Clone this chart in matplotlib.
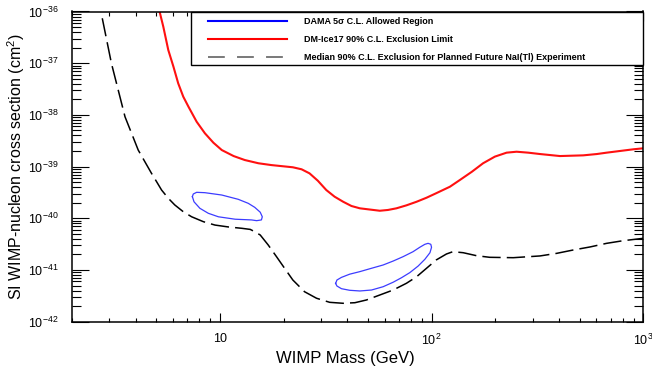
import numpy as np
import matplotlib.pyplot as plt
from matplotlib.lines import Line2D
from matplotlib.patches import Rectangle
from matplotlib.ticker import LogLocator, FixedLocator, FixedFormatter, NullFormatter

plt.rcParams['font.family'] = ['Liberation Sans', 'DejaVu Sans']
plt.rcParams['mathtext.fontset'] = 'custom'
plt.rcParams['mathtext.rm'] = 'Liberation Sans'
plt.rcParams['mathtext.it'] = 'Liberation Sans:italic'
plt.rcParams['mathtext.bf'] = 'Liberation Sans:bold'

# DM-Ice17 90% C.L. exclusion limit
mass_dmice = [5.15, 5.2, 5.40, 5.7, 6.03, 6.35, 6.71, 7.1, 7.76, 8.49, 9.31, 10.2, 11.6, 13.1,
              15.2, 17.5, 22.1, 24.3, 26.5, 29.0, 31.8, 34.8, 38.2, 41.8, 45.8, 56.9, 62.2,
              68.2, 76.0, 84.9, 94.6, 105, 122, 136, 155, 175, 199, 226, 252, 286, 325, 404,
              520, 603, 671, 897, 1000]
sigma_dmice = [1.1e-36, 9.5e-37, 5.08e-37, 1.8e-37, 8.55e-38, 4.08e-38, 2.25e-38, 1.44e-38,
               7.38e-39, 4.41e-39, 2.9e-39, 2.09e-39, 1.60e-39, 1.34e-39, 1.16e-39, 1.07e-39,
               9.7e-40, 8.87e-40, 7.4e-40, 5.33e-40, 3.52e-40, 2.62e-40, 2.09e-40, 1.73e-40,
               1.56e-40, 1.40e-40, 1.45e-40, 1.56e-40, 1.78e-40, 2.09e-40, 2.50e-40, 3.05e-40,
               4.08e-40, 5.51e-40, 7.96e-40, 1.16e-39, 1.56e-39, 1.86e-39, 1.94e-39, 1.86e-39,
               1.75e-39, 1.60e-39, 1.65e-39, 1.75e-39, 1.86e-39, 2.16e-39, 2.26e-39]

# median sensitivity of a future NaI(Tl) experiment
mass_future = [2.78, 3.07, 3.56, 4.11, 4.42, 4.75, 5.02, 5.30, 5.70, 6.12, 6.71, 7.35, 8.35,
               9.47, 10.96, 12.7, 13.9, 14.6, 15.5, 16.9, 18.5, 20.2, 22.1, 25.1, 28.6, 33.0,
               38.2, 43.4, 49.2, 65.8, 76.0, 84.9, 94.6, 105, 117.5, 126, 141, 163, 188, 243,
               325, 390, 467, 560, 671, 804, 1000]
sigma_future = [7.4e-37, 1.0e-37, 9.2e-39, 2.09e-39, 1.24e-39, 7.4e-40, 5.1e-40, 3.52e-40,
                2.44e-40, 1.81e-40, 1.34e-40, 1.07e-40, 8.6e-41, 7.4e-41, 6.8e-41, 6.4e-41,
                6.1e-41, 5.5e-41, 4.75e-41, 3.05e-41, 1.81e-41, 1.08e-41, 6.4e-42, 3.8e-42,
                2.84e-42, 2.37e-42, 2.27e-42, 2.33e-42, 2.63e-42, 4.1e-42, 5.53e-42, 7.4e-42,
                1.08e-41, 1.56e-41, 2.04e-41, 2.26e-41, 2.16e-41, 1.89e-41, 1.76e-41, 1.73e-41,
                1.87e-41, 2.10e-41, 2.44e-41, 2.79e-41, 3.28e-41, 3.69e-41, 4.1e-41]

# DAMA 5 sigma regions (closed contours)
dama_low_mass = [7.41, 7.48, 7.76, 8.49, 10.2, 12.2, 13.6, 14.6, 15.5, 15.85, 15.7, 14.9, 14.1,
                 11.8, 9.83, 8.81, 8.04, 7.54, 7.41]
dama_low_sigma = [2.62e-40, 2.95e-40, 3.18e-40, 3.13e-40, 2.82e-40, 2.33e-40, 1.95e-40,
                  1.63e-40, 1.31e-40, 1.07e-40, 9.3e-41, 9.0e-41, 9.3e-41, 9.6e-41, 1.07e-40,
                  1.25e-40, 1.56e-40, 2.09e-40, 2.62e-40]
dama_high_mass = [35.2, 35.7, 37.5, 41.0, 45.8, 52.0, 59.0, 65.8, 73.3, 81.7, 87.9, 92.9, 96.2,
                  99.1, 99.9, 98.2, 92.9, 86.3, 78.9, 72.1, 65.8, 59.0, 52.0, 45.8, 41.0, 37.5,
                  35.7, 35.2]
dama_high_sigma = [5.5e-42, 6.4e-42, 7.2e-42, 8.3e-42, 9.3e-42, 1.08e-41, 1.25e-41, 1.49e-41,
                   1.81e-41, 2.26e-41, 2.75e-41, 3.14e-41, 3.28e-41, 3.14e-41, 2.75e-41,
                   2.16e-41, 1.61e-41, 1.19e-41, 8.9e-42, 7.1e-42, 5.8e-42, 4.75e-42, 4.1e-42,
                   3.93e-42, 4.05e-42, 4.35e-42, 4.9e-42, 5.5e-42]

legend_labels = ["DAMA 5σ C.L. Allowed Region",
                 "DM-Ice17 90% C.L. Exclusion Limit",
                 "Median 90% C.L. Exclusion for Planned Future NaI(Tl) Experiment"]

x_ticks = [10, 100, 1000]
x_tick_labels = ["10", "$10^2$", "$10^3$"]
y_ticks = [1e-42, 1e-41, 1e-40, 1e-39, 1e-38, 1e-37, 1e-36]
y_tick_labels = ["$10^{-42}$", "$10^{-41}$", "$10^{-40}$", "$10^{-39}$",
                 "$10^{-38}$", "$10^{-37}$", "$10^{-36}$"]

fig = plt.figure(figsize=(6.52, 3.73), dpi=100)
ax = fig.add_axes([72 / 652, 51.3 / 373, 571.3 / 652, 310.2 / 373])

ax.plot(mass_future, sigma_future, color='black', lw=1.1, dashes=(12, 4))
ax.plot(mass_dmice, sigma_dmice, color='#ff1010', lw=1.5)
ax.plot(dama_low_mass, dama_low_sigma, color='#3c3cff', lw=0.9)
ax.plot(dama_high_mass, dama_high_sigma, color='#3c3cff', lw=0.9)

ax.set_xscale('log')
ax.set_yscale('log')
ax.set_xlim(2, 1000)
ax.set_ylim(1e-42, 1e-36)

ax.xaxis.set_major_locator(FixedLocator(x_ticks))
ax.xaxis.set_major_formatter(FixedFormatter(x_tick_labels))
ax.xaxis.set_minor_locator(LogLocator(base=10, subs=np.arange(2, 10), numticks=20))
ax.xaxis.set_minor_formatter(NullFormatter())
ax.yaxis.set_major_locator(FixedLocator(y_ticks))
ax.yaxis.set_major_formatter(FixedFormatter(y_tick_labels))
ax.yaxis.set_minor_locator(LogLocator(base=10, subs=np.arange(2, 10), numticks=20))
ax.yaxis.set_minor_formatter(NullFormatter())

ax.tick_params(which='both', direction='in', top=True, right=True, width=0.8, labelsize=9)
ax.tick_params(axis='x', which='major', length=6.5, pad=8)
ax.tick_params(axis='x', which='minor', length=3.2)
ax.tick_params(axis='y', which='major', length=12, pad=10)
ax.tick_params(axis='y', which='minor', length=6.5)
for s in ax.spines.values():
    s.set_linewidth(1.1)

ax.set_xlabel("WIMP Mass (GeV)", fontsize=12)
ax.xaxis.set_label_coords(0.479, -0.095)
ax.set_ylabel("SI WIMP-nucleon cross section (cm$^2$)", fontsize=11.5)
ax.yaxis.set_label_coords(-0.078, 0.5)

# legend box
ax.add_patch(Rectangle((0.2083, 0.8275), 0.7917, 0.171, transform=ax.transAxes,
                       facecolor='white', edgecolor='black', lw=1.0, zorder=5, clip_on=False))
handles = [Line2D([], [], color='blue', lw=1.5),
           Line2D([], [], color='red', lw=1.5),
           Line2D([], [], color='#555555', lw=1.1, dashes=(11, 8))]
leg = ax.legend(handles, legend_labels, loc='upper left', bbox_to_anchor=(0.238, 0.981),
                frameon=False, borderpad=0, borderaxespad=0, handlelength=8.75,
                handletextpad=1.9, labelspacing=1.0, prop={'weight': 'bold', 'size': 6.5})
leg.set_zorder(6)

fig.savefig('out.png', dpi=100)
